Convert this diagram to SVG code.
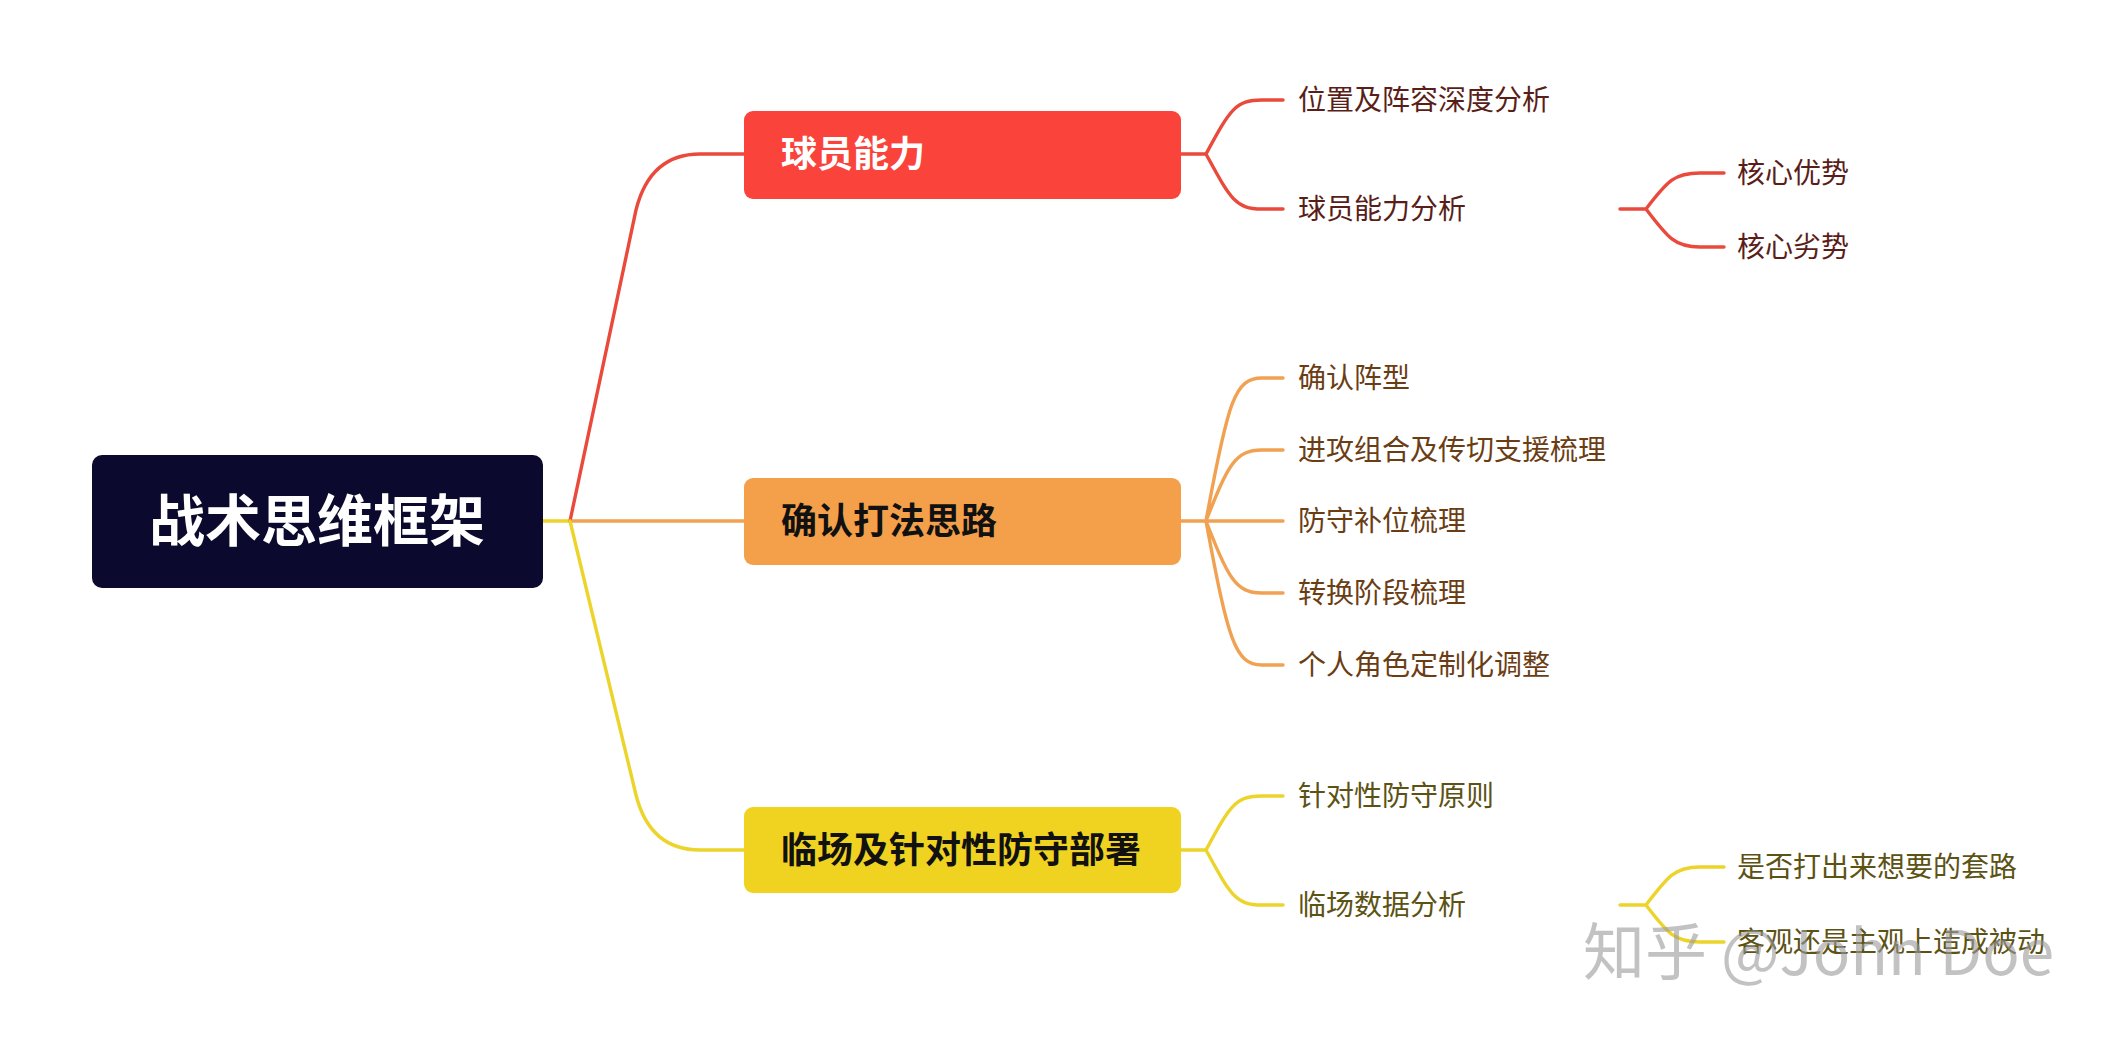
<svg xmlns="http://www.w3.org/2000/svg" width="2118" height="1038" viewBox="0 0 2118 1038">
<style>
text{font-family:"Noto Sans CJK SC","Noto Sans",sans-serif}
.b{font-size:36px;font-weight:bold}
.t{font-size:28px}
.c{fill:none;stroke-width:3.4;stroke-linecap:round}
.r{stroke:#ea4a3c}.o{stroke:#f1a152}.y{stroke:#ecd42a}
.tr{fill:#5a1e19}.to{fill:#6b3d14}.ty{fill:#5c5214}
</style>
<rect width="2118" height="1038" fill="#fff"/>
<g id="connectors">
<path class="c y" d="M543,521 H570"/>
<path class="c o" d="M570,521 H744"/>
<path class="c r" d="M570,521 L636,210 Q650,154 700,154 H744"/>
<path class="c y" d="M570,521 L636,795 Q650,850 700,850 H744"/>
<path class="c r" d="M1181,154 H1206 M1206,154 C1230,110 1235,100 1262,100 H1283 M1206,154 C1230,198 1235,209 1262,209 H1283"/>
<path class="c r" d="M1620,209 H1646 M1646,209 C1668,180 1675,173 1700,173 H1724 M1646,209 C1668,238 1675,247 1700,247 H1724"/>
<path class="c o" d="M1181,521 H1283 M1206,521 C1228,400 1235,378 1262,378 H1283 M1206,521 C1228,465 1235,450 1262,450 H1283 M1206,521 C1228,577 1235,593 1262,593 H1283 M1206,521 C1228,640 1235,665 1262,665 H1283"/>
<path class="c y" d="M1181,850 H1206 M1206,850 C1230,806 1235,796 1262,796 H1283 M1206,850 C1230,894 1235,905 1262,905 H1283"/>
<path class="c y" d="M1620,905 H1646 M1646,905 C1668,876 1675,867 1700,867 H1724 M1646,905 C1668,934 1675,942 1700,942 H1724"/>
</g>
<g id="root"><rect x="92" y="455" width="451" height="133" rx="10" fill="#0b0a2e"/><text x="317" y="541" font-size="56" font-weight="bold" fill="#fff" text-anchor="middle">战术思维框架</text></g>
<g id="n1"><rect x="744" y="111" width="437" height="88" rx="9" fill="#f9433b"/><text x="781" y="167" class="b" fill="#fff">球员能力</text></g>
<g id="n2"><rect x="744" y="478" width="437" height="87" rx="9" fill="#f4a04b"/><text x="781" y="534" class="b" fill="#111">确认打法思路</text></g>
<g id="n3"><rect x="744" y="807" width="437" height="86" rx="9" fill="#f0d321"/><text x="781" y="863" class="b" fill="#111">临场及针对性防守部署</text></g>
<g id="leaves" class="t">
<text x="1298" y="110" class="tr">位置及阵容深度分析</text>
<text x="1298" y="219" class="tr">球员能力分析</text>
<text x="1737" y="183" class="tr">核心优势</text>
<text x="1737" y="257" class="tr">核心劣势</text>
<text x="1298" y="388" class="to">确认阵型</text>
<text x="1298" y="460" class="to">进攻组合及传切支援梳理</text>
<text x="1298" y="531" class="to">防守补位梳理</text>
<text x="1298" y="603" class="to">转换阶段梳理</text>
<text x="1298" y="675" class="to">个人角色定制化调整</text>
<text x="1298" y="806" class="ty">针对性防守原则</text>
<text x="1298" y="915" class="ty">临场数据分析</text>
<text x="1737" y="877" class="ty">是否打出来想要的套路</text>
<text x="1737" y="952" class="ty">客观还是主观上造成被动</text>
</g>
<text x="1583" y="975" font-size="62" fill="#999" fill-opacity="0.6" font-family="Noto Sans CJK SC,sans-serif">知乎 @John Doe</text>
</svg>
